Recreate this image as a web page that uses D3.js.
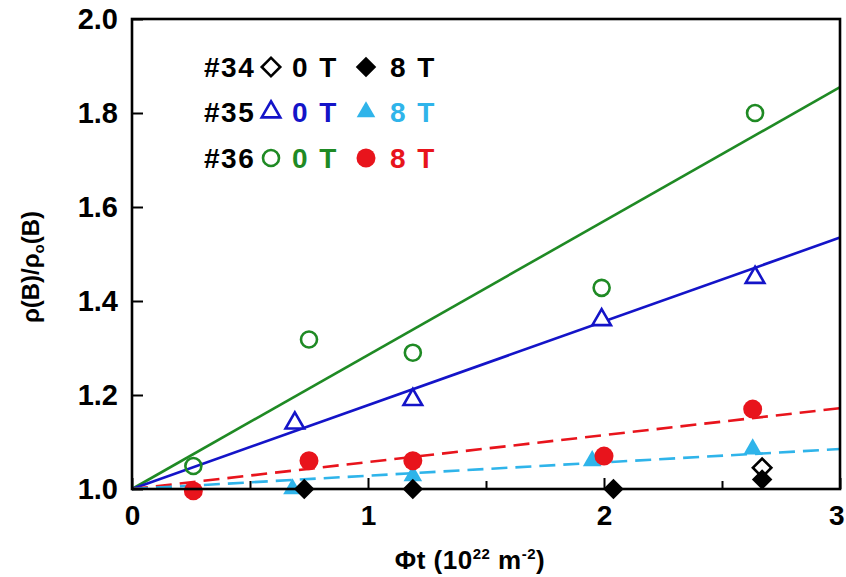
<!DOCTYPE html>
<html>
<head>
<meta charset="utf-8">
<script src="https://cdn.jsdelivr.net/npm/d3@7"></script>
<style>
  body { margin: 0; background: #fff; }
  text { font-family: "Liberation Sans", Arial, sans-serif; font-weight: bold; }
</style>
</head>
<body>
<div id="chart"></div>
<script>
// #34
const x34open = [2.67];
const y34open = [1.045];
const x34filled = [0.73, 1.19, 2.04, 2.67];
const y34filled = [1.0, 1.0, 1.0, 1.02];
// #35
const x35open = [0.69, 1.19, 1.99, 2.64];
const y35open = [1.14, 1.19, 1.36, 1.45];
const x35filled = [0.68, 1.19, 1.95, 2.63];
const y35filled = [1.0, 1.028, 1.06, 1.085];
// #36
const x36open = [0.26, 0.75, 1.19, 1.99, 2.64];
const y36open = [1.049, 1.318, 1.29, 1.428, 1.80];
const x36filled = [0.26, 0.75, 1.19, 2.0, 2.63];
const y36filled = [0.996, 1.06, 1.06, 1.07, 1.17];
// fitted lines through (0, 1): value at x = 3
const fitEnd = { open36: 1.855, open35: 1.535, filled36: 1.172, filled35: 1.085 };

const xTicks = [0, 1, 2, 3];
const xMinor = [0.5, 1.5, 2.5];
const yTicks = [1.0, 1.2, 1.4, 1.6, 1.8, 2.0];

const W = 846, H = 577;
const margin = { left: 132, top: 19, right: 6, bottom: 88 };
const w = W - margin.left - margin.right;
const h = H - margin.top - margin.bottom;

const green = "#1f8a24", blue = "#1414c8", cyan = "#2fb4ea", red = "#e8141c";

const svg = d3.select("#chart").append("svg")
    .attr("width", W).attr("height", H);
const g = svg.append("g")
    .attr("transform", `translate(${margin.left},${margin.top})`);

const x = d3.scaleLinear().domain([0, 3]).range([0, w]);
const y = d3.scaleLinear().domain([1, 2]).range([h, 0]);

// fit lines
const fits = [
    { end: fitEnd.open36, color: green, dash: null },
    { end: fitEnd.open35, color: blue, dash: null },
    { end: fitEnd.filled36, color: red, dash: "16,8" },
    { end: fitEnd.filled35, color: cyan, dash: "16,8" }
];
const line = d3.line().x(d => x(d[0])).y(d => y(d[1]));
g.selectAll("path.fit").data(fits).enter().append("path")
    .attr("class", "fit")
    .attr("d", d => line([[0, 1], [3, d.end]]))
    .attr("fill", "none")
    .attr("stroke", d => d.color)
    .attr("stroke-width", 2.6)
    .attr("stroke-dasharray", d => d.dash);

// markers
const sym = {
    circle: d3.symbol().type(d3.symbolCircle).size(Math.PI * 64)(),
    bigCircle: d3.symbol().type(d3.symbolCircle).size(Math.PI * 90)(),
    triangle: d3.symbol().type(d3.symbolTriangle).size(150)(),
    square: d3.symbol().type(d3.symbolSquare).size(170)(),
    bigSquare: d3.symbol().type(d3.symbolSquare).size(210)()
};

function drawSeries(xs, ys, shape, fill, stroke, sw, rot) {
    g.append("g").selectAll("path").data(xs.map((v, i) => [v, ys[i]])).enter()
        .append("path")
        .attr("d", sym[shape])
        .attr("transform", d => `translate(${x(d[0])},${y(d[1])})` + (rot ? " rotate(45)" : ""))
        .attr("fill", fill)
        .attr("stroke", stroke)
        .attr("stroke-width", sw);
}

drawSeries(x36open, y36open, "circle", "none", green, 2.6);
drawSeries(x35open, y35open, "triangle", "#fff", blue, 2.6);
drawSeries(x35filled, y35filled, "triangle", cyan, cyan, 0);
drawSeries(x36filled, y36filled, "bigCircle", red, red, 0);
drawSeries(x34open, y34open, "square", "#fff", "#000", 2.6, true);
drawSeries(x34filled, y34filled, "bigSquare", "#000", "#000", 0, true);

// frame
g.append("rect")
    .attr("width", w).attr("height", h)
    .attr("fill", "none").attr("stroke", "#000").attr("stroke-width", 2.6);

// axes (ticks pointing inward)
const xAxis = g.append("g").attr("transform", `translate(0,${h})`)
    .call(d3.axisBottom(x).tickValues(xTicks).tickSize(-11).tickPadding(16).tickFormat(d3.format("d")));
g.append("g").attr("transform", `translate(0,${h})`)
    .call(d3.axisBottom(x).tickValues(xMinor).tickSize(-8).tickFormat(""))
    .call(a => a.select(".domain").remove());
const yAxis = g.append("g")
    .call(d3.axisLeft(y).tickValues(yTicks).tickSize(-11).tickPadding(14).tickFormat(d3.format(".1f")));

g.selectAll(".domain").remove();
g.selectAll(".tick line").attr("stroke", "#000").attr("stroke-width", 2);
xAxis.selectAll("text").attr("font-size", 28).attr("fill", "#000").attr("dy", "0.7em");
xAxis.selectAll("text").filter(d => d === 3).attr("text-anchor", "end").attr("dx", 4);
yAxis.selectAll("text").attr("font-size", 29).attr("fill", "#000");

// axis titles
svg.append("text")
    .attr("transform", `translate(39,${margin.top + 248}) rotate(-90)`)
    .attr("text-anchor", "middle")
    .attr("font-size", 24)
    .html('ρ(B)/ρ<tspan font-size="15" dy="5">o</tspan><tspan dy="-5">(B)</tspan>');

svg.append("text")
    .attr("x", 470).attr("y", 569)
    .attr("text-anchor", "middle")
    .attr("font-size", 26)
    .attr("letter-spacing", 0.5)
    .html('Φt (10<tspan font-size="15" dy="-10">22</tspan><tspan dy="10"> m</tspan><tspan font-size="15" dy="-10">-2</tspan><tspan dy="10">)</tspan>');

// legend
const legendRows = [
    { label: "#34", y: 67, open: "square", filled: "bigSquare", rot: true, c0: "#000", c8: "#000" },
    { label: "#35", y: 112, open: "triangle", filled: "triangle", rot: false, c0: blue, c8: cyan },
    { label: "#36", y: 158, open: "circle", filled: "bigCircle", rot: false, c0: green, c8: red }
];
const leg = svg.append("g");
legendRows.forEach(r => {
    const row = leg.append("g").attr("transform", `translate(0,${r.y})`);
    row.append("text").attr("x", 204).attr("y", 10).attr("font-size", 28).attr("fill", "#000")
        .attr("letter-spacing", 1.5).text(r.label);
    row.append("path").attr("d", sym[r.open])
        .attr("transform", `translate(271,0)` + (r.rot ? " rotate(45)" : ""))
        .attr("fill", "none").attr("stroke", r.c0).attr("stroke-width", 2.6);
    row.append("text").attr("x", 292).attr("y", 10).attr("font-size", 28).attr("fill", r.c0)
        .attr("letter-spacing", 2).text("0 T");
    row.append("path").attr("d", sym[r.filled])
        .attr("transform", `translate(366,0)` + (r.rot ? " rotate(45)" : ""))
        .attr("fill", r.c8);
    row.append("text").attr("x", 390).attr("y", 10).attr("font-size", 28).attr("fill", r.c8)
        .attr("letter-spacing", 2).text("8 T");
});
</script>
</body>
</html>
